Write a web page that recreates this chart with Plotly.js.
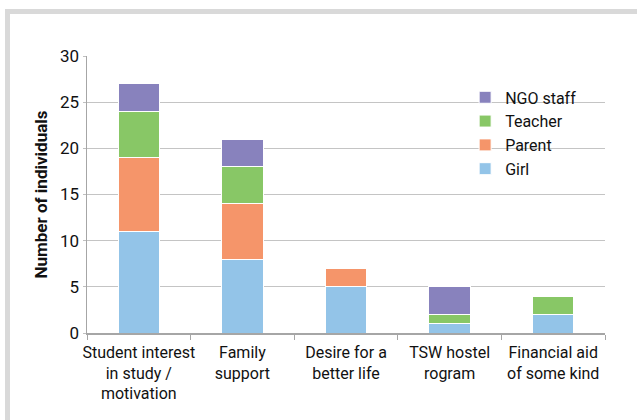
<!DOCTYPE html>
<html>
<head>
<meta charset="utf-8">
<script src="https://cdn.plot.ly/plotly-3.0.1.min.js"></script>
<style>
html,body{margin:0;padding:0;background:#fff;}
#frame{position:absolute;left:5px;top:9px;width:632px;height:411px;border-top:5px solid #d9d9d9;border-left:5px solid #d9d9d9;box-sizing:border-box;}
#chart{position:absolute;left:0;top:0;width:637px;height:420px;}
</style>
</head>
<body>
<div id="frame"></div>
<div id="chart"></div>
<script>
const categories = [
  "Student interest<br>in study /<br>motivation",
  "Family<br>support",
  "Desire for a<br>better life",
  "TSW hostel<br>rogram",
  "Financial aid<br>of some kind"
];
const girl    = [11, 8, 5, 1, 2];
const parent  = [8, 6, 2, 0, 0];
const teacher = [5, 4, 0, 1, 2];
const ngo     = [3, 3, 0, 3, 0];
const yTicks  = [0, 5, 10, 15, 20, 25, 30];

const font = "Roboto, 'Liberation Sans', sans-serif";
function mk(name, vals, color) {
  return {type: "bar", name: name, x: categories, y: vals,
    marker: {color: color, line: {color: "#ffffff", width: 1}}, hoverinfo: "skip"};
}
const data = [
  mk("Girl", girl, "#93c4e8"),
  mk("Parent", parent, "#f5956a"),
  mk("Teacher", teacher, "#88c766"),
  mk("NGO staff", ngo, "#8882bd")
];
const layout = {
  width: 637, height: 420,
  margin: {l: 87, r: 32, t: 56, b: 87},
  paper_bgcolor: "rgba(0,0,0,0)", plot_bgcolor: "rgba(0,0,0,0)",
  barmode: "stack", bargap: 0.6,
  font: {family: font, size: 16, color: "#111"},
  showlegend: true,
  legend: {traceorder: "reversed", x: 0.73, y: 0.912, xanchor: "left", yanchor: "top",
    bgcolor: "rgba(0,0,0,0)", font: {family: font, size: 16}, itemwidth: 30, tracegroupgap: 0},
  xaxis: {type: "category", tickson: "boundaries", ticks: "outside", ticklen: 5, tickangle: 0,
    ticklabelstandoff: 4,
    tickcolor: "#a6a6a6", showline: true, linecolor: "#a6a6a6", linewidth: 1.5,
    showgrid: false, tickfont: {family: font, size: 16}, fixedrange: true},
  yaxis: {range: [0, 30], tickvals: yTicks, ticks: "outside", ticklen: 3,
    tickcolor: "#bfbfbf", showline: true, linecolor: "#a6a6a6", linewidth: 1.5,
    gridcolor: "#c4c4c4", gridwidth: 1, zeroline: false,
    tickfont: {family: font, size: 17},
    title: {text: "<b>Number of individuals</b>", font: {family: font, size: 17}, standoff: 8},
    fixedrange: true}
};
Plotly.newPlot("chart", data, layout, {displayModeBar: false, staticPlot: true});
</script>
</body>
</html>
